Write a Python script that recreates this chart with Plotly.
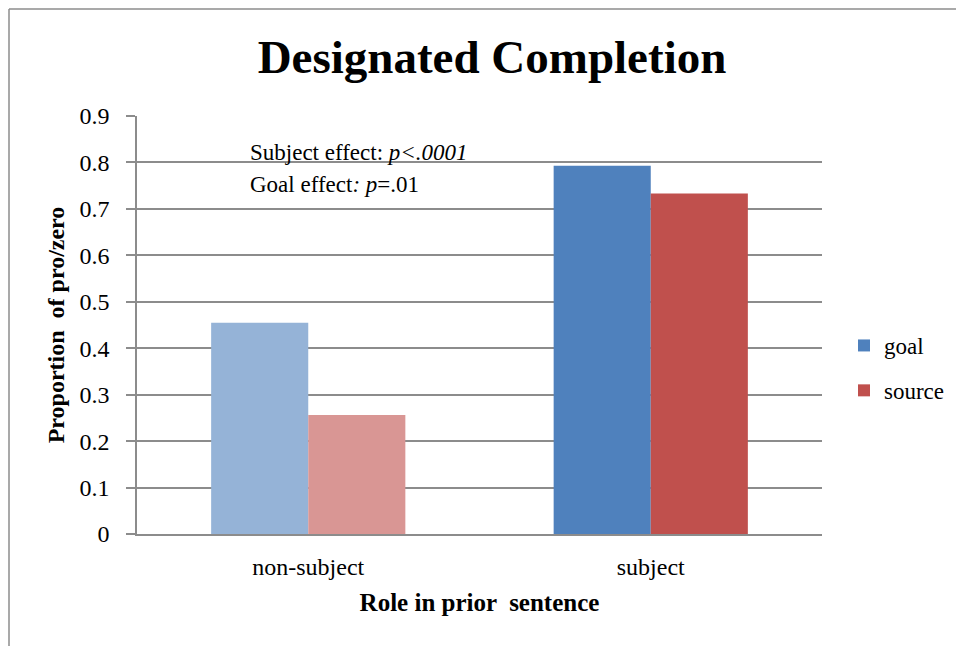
import plotly.graph_objects as go

categories = ["non-subject", "subject"]
goal_values = [0.455, 0.793]
source_values = [0.256, 0.733]
goal_colors = ["#95B3D7", "#4F81BD"]
source_colors = ["#D99694", "#C0504D"]
y_ticks = [0, 0.1, 0.2, 0.3, 0.4, 0.5, 0.6, 0.7, 0.8, 0.9]
y_tick_labels = ["0", "0.1", "0.2", "0.3", "0.4", "0.5", "0.6", "0.7", "0.8", "0.9"]

FONT = "Liberation Serif, Times New Roman, serif"
W, H = 956, 638
L, R, T, B = 129, 142, 108, 112
pw, ph = W - L - R, H - T - B

fig = go.Figure()
fig.add_trace(go.Bar(x=categories, y=goal_values, name="goal",
                     marker=dict(color=goal_colors, line=dict(width=0)),
                     showlegend=False))
fig.add_trace(go.Bar(x=categories, y=source_values, name="source",
                     marker=dict(color=source_colors, line=dict(width=0)),
                     showlegend=False))
# legend entries
fig.add_trace(go.Scatter(x=[None], y=[None], mode="markers", name="goal", legendgroup="g1",
                         marker=dict(symbol="square", size=14, color="#4F81BD")))
fig.add_trace(go.Scatter(x=[None], y=[None], mode="markers", name="source", legendgroup="g2",
                         marker=dict(symbol="square", size=14, color="#C0504D")))

fig.update_layout(
    width=W, height=H,
    margin=dict(l=L, r=R, t=T, b=B, autoexpand=False),
    paper_bgcolor="white", plot_bgcolor="white",
    barmode="group", bargap=0.433, bargroupgap=0,
    font=dict(family=FONT, color="black", size=24),
    title=dict(text="<b>Designated Completion</b>", x=484 / W, xanchor="center",
               y=1 - 49 / H, yanchor="middle", font=dict(size=47, family=FONT)),
    legend=dict(x=(836 - L) / pw, y=1 - (316 - T) / ph, xanchor="left", yanchor="top",
                font=dict(size=23, family=FONT), tracegroupgap=12, itemsizing="constant",
                bgcolor="rgba(0,0,0,0)", traceorder="grouped"),
    showlegend=True,
)
fig.update_yaxes(range=[0, 0.9], tickvals=y_ticks, ticktext=y_tick_labels,
                 showgrid=True, gridcolor="#8C8C8C", gridwidth=1.5,
                 showline=True, linecolor="#8C8C8C", linewidth=1.5,
                 ticks="outside", ticklen=9, tickcolor="#8C8C8C", tickwidth=1.5,
                 tickfont=dict(size=24, family=FONT), zeroline=False, ticklabelstandoff=12,
                 title=dict(text="<b>Proportion  of pro/zero</b>", font=dict(size=24, family=FONT), standoff=8))
fig.update_xaxes(showline=True, linecolor="#8C8C8C", linewidth=1.5,
                 tickfont=dict(size=24, family=FONT), ticks="", ticklabelstandoff=10,
                 title=dict(text="<b>Role in prior  sentence</b>", font=dict(size=25, family=FONT), standoff=15))

fig.add_annotation(xref="paper", yref="paper", x=(240 - L) / pw, y=1 - (144 - T) / ph,
                   xanchor="left", yanchor="middle", showarrow=False,
                   text="Subject effect: <i>p&lt;.0001</i>", font=dict(size=23, family=FONT))
fig.add_annotation(xref="paper", yref="paper", x=(240 - L) / pw, y=1 - (176 - T) / ph,
                   xanchor="left", yanchor="middle", showarrow=False,
                   text="Goal effect<i>: p</i>=.01", font=dict(size=23, family=FONT))

# outer chart border (left and top edges visible)
fig.add_shape(type="line", xref="paper", yref="paper",
              x0=(1 - L) / pw, x1=(1 - L) / pw, y0=1 + (T - 1) / ph, y1=-(B + 5) / ph,
              line=dict(color="#8C8C8C", width=1.5))
fig.add_shape(type="line", xref="paper", yref="paper",
              x0=(1 - L) / pw, x1=(W + 5 - L) / pw, y0=1 + (T - 1) / ph, y1=1 + (T - 1) / ph,
              line=dict(color="#8C8C8C", width=1.5))

fig.write_html("out.html")
